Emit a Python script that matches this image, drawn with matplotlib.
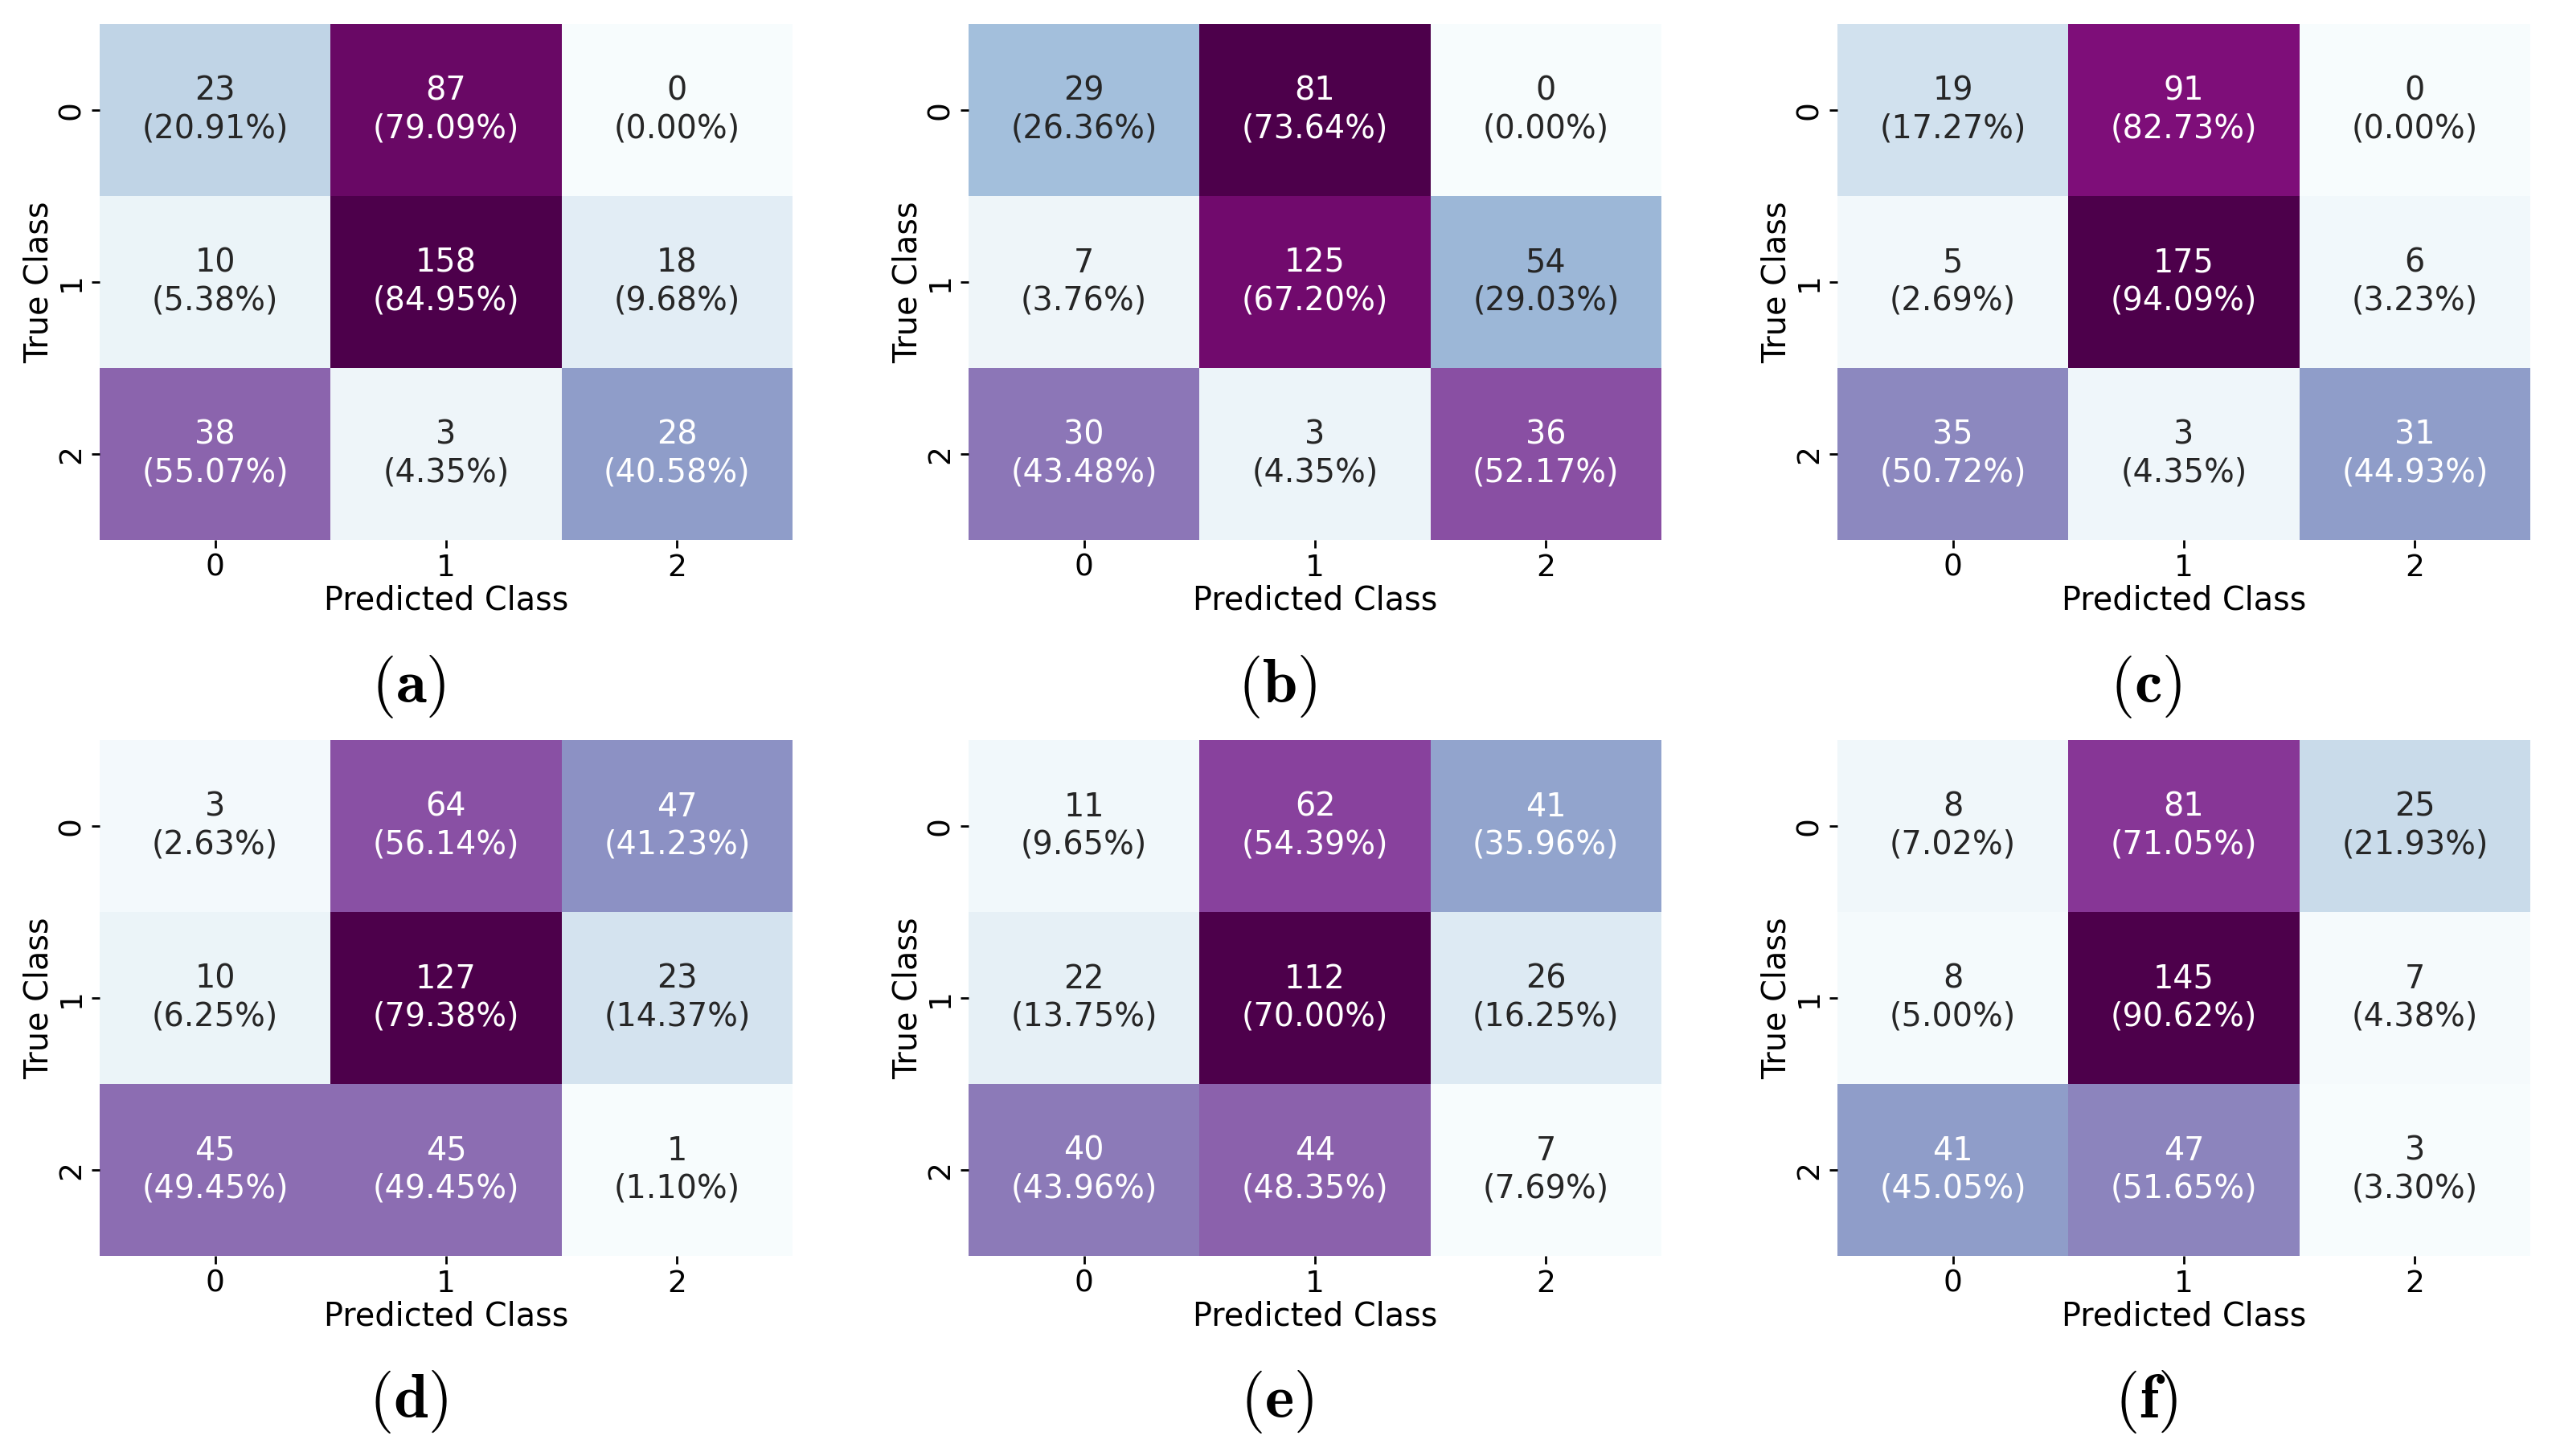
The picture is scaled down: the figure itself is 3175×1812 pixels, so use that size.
import numpy as np
import matplotlib
matplotlib.use("Agg")
import matplotlib.pyplot as plt
import seaborn as sns

# Confusion matrices (rows = true class, cols = predicted class)
cm_a = [[23, 87, 0], [10, 158, 18], [38, 3, 28]]
cm_b = [[29, 81, 0], [7, 125, 54], [30, 3, 36]]
cm_c = [[19, 91, 0], [5, 175, 6], [35, 3, 31]]
cm_d = [[3, 64, 47], [10, 127, 23], [45, 45, 1]]
cm_e = [[11, 62, 41], [22, 112, 26], [40, 44, 7]]
cm_f = [[8, 81, 25], [8, 145, 7], [41, 47, 3]]

panel_labels = ['(a)', '(b)', '(c)', '(d)', '(e)', '(f)']
class_labels = ['0', '1', '2']
matrices = [cm_a, cm_b, cm_c, cm_d, cm_e, cm_f]

plt.rcParams['font.family'] = ['DejaVu Sans']
plt.rcParams['mathtext.fontset'] = 'cm'

W, H = 3175, 1812
DPI = 200
fig = plt.figure(figsize=(W / DPI, H / DPI), dpi=DPI)

lefts = [124, 1205, 2286]
tops = [30, 921]
ax_w, ax_h = 862, 642
label_y = [855, 1745]

for i, cm in enumerate(matrices):
    r, c = divmod(i, 3)
    x0 = lefts[c]
    y0 = tops[r]
    ax = fig.add_axes([x0 / W, 1 - (y0 + ax_h) / H, ax_w / W, ax_h / H])

    cm = np.array(cm, dtype=float)
    pct = cm / cm.sum(axis=1, keepdims=True) * 100
    annot = np.array([[f"{int(cm[j, k])}\n({pct[j, k]:.2f}%)" for k in range(3)]
                      for j in range(3)])

    # colour scale runs from min to max percentage of each matrix
    sns.heatmap(pct, ax=ax, cmap='BuPu', cbar=False,
                annot=annot, fmt='', annot_kws={'fontsize': 14.3},
                xticklabels=class_labels, yticklabels=class_labels)

    ax.set_xlabel('Predicted Class', fontsize=14.3, labelpad=1)
    ax.set_ylabel('True Class', fontsize=14.3, labelpad=1)
    ax.tick_params(axis='both', labelsize=13.5, length=3.5, width=1, pad=2.5)
    plt.setp(ax.get_yticklabels(), rotation=90, va='center')
    plt.setp(ax.get_xticklabels(), rotation=0)

    cx = (x0 + ax_w / 2 - 47) / W
    fig.text(cx, 1 - label_y[r] / H, r'$\mathbf{' + panel_labels[i] + '}$',
             fontsize=28, ha='center', va='center')

fig.savefig('out.png', dpi=DPI)
